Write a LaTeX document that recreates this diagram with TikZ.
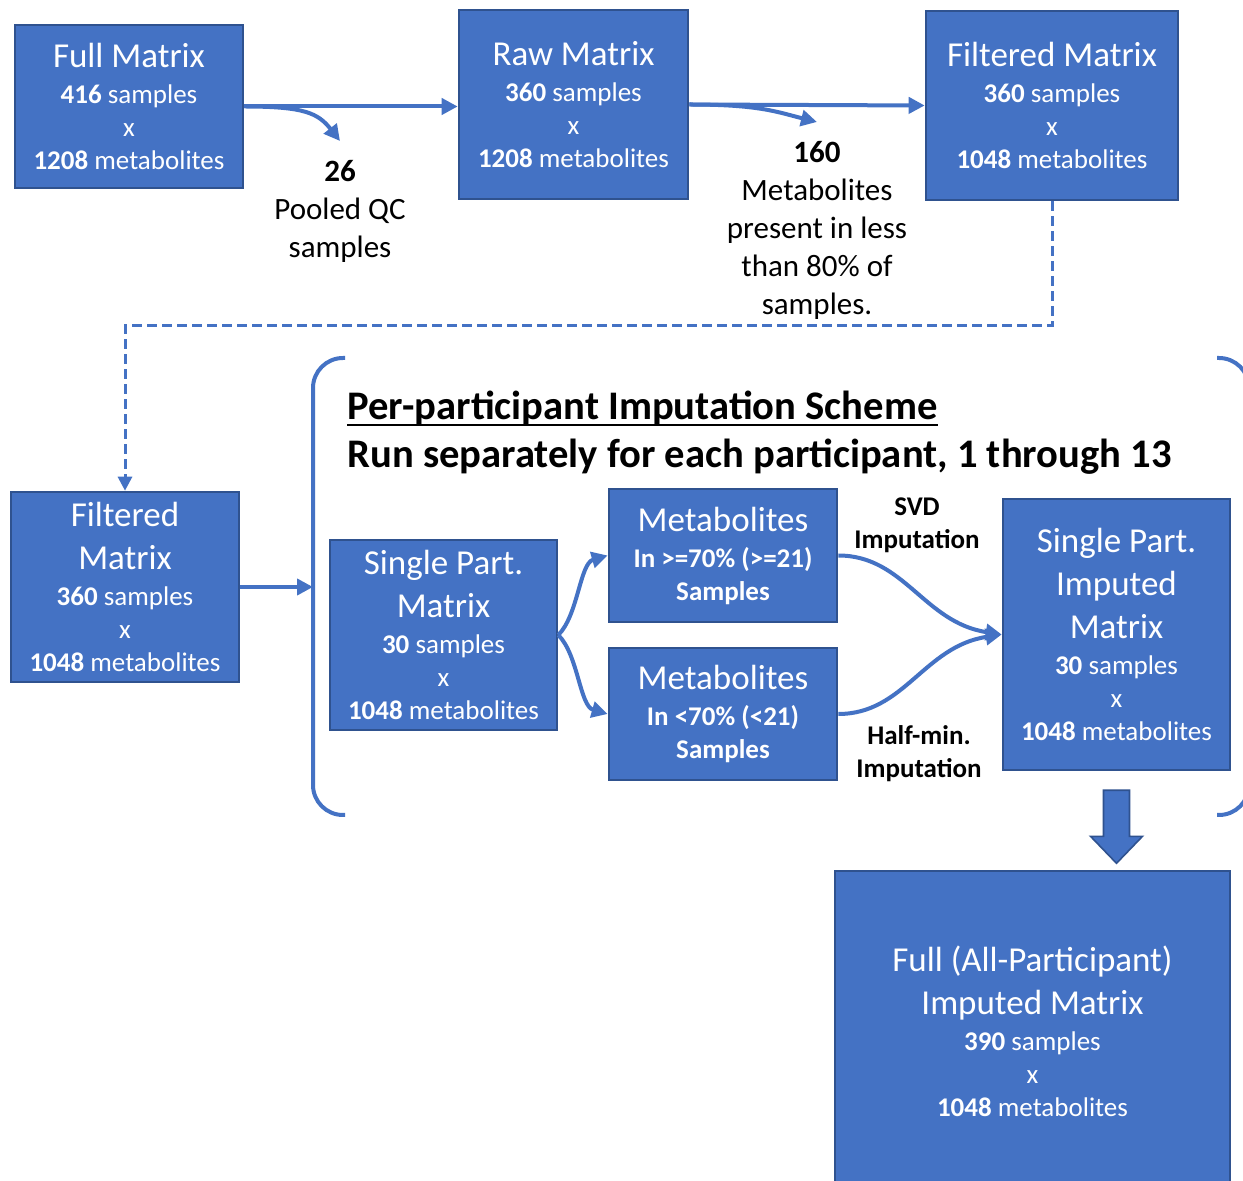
\documentclass[tikz,border=0pt]{standalone}
\usepackage{fontspec}
\setmainfont{Carlito}
\usetikzlibrary{arrows.meta, calc}

\definecolor{boxblue}{HTML}{4472C4}
\definecolor{boxline}{HTML}{2F528F}

\newcommand{\ttl}[1]{{\fontsize{17.5}{21}\selectfont #1}}

\tikzset{
    box/.style={draw=boxline, fill=boxblue, line width=1.3pt, text=white, align=center,
        inner sep=0pt, font=\fontsize{13.5}{16.5}\selectfont},
    flow/.style={draw=boxblue, line width=2pt, -{Triangle[length=8pt, width=8pt]}},
    dashflow/.style={draw=boxblue, line width=1.5pt, dash pattern=on 5pt off 2.5pt,
        -{Triangle[length=7pt, width=7pt]}},
    brace/.style={draw=boxblue, line width=2pt, rounded corners=15pt},
    blockarrow/.style={fill=boxblue, draw=boxline, line width=0.8pt},
    lbl/.style={align=center, font=\fontsize{15.5}{19}\selectfont},
    note/.style={align=center, font=\fontsize{13.5}{16.5}\selectfont\bfseries},
    head/.style={inner sep=0pt, font=\fontsize{20.3}{24}\selectfont\bfseries}
}

\begin{document}
\begin{tikzpicture}[x=0.5pt, y=-0.5pt]
        \useasboundingbox[fill=white] (0, 0) rectangle (1243, 1181);

        % 上排矩阵
        \node[box, minimum width=114pt, minimum height=81.5pt] (full) at (129, 106.5)
            {\ttl{Full Matrix}\\[1.5pt] \textbf{416} samples\\ x\\ \textbf{1208} metabolites};
        \node[box, minimum width=114.5pt, minimum height=94.5pt] (raw) at (573.5, 104.5)
            {\ttl{Raw Matrix}\\[1.5pt] \textbf{360} samples\\ x\\ \textbf{1208} metabolites};
        \node[box, minimum width=126pt, minimum height=94.5pt] (ftop) at (1052, 105.5)
            {\ttl{Filtered Matrix}\\[1.5pt] \textbf{360} samples\\ x\\ \textbf{1048} metabolites};

        % 去除的样本与代谢物
        \coordinate (qctip) at (340, 141);
        \coordinate (droptip) at (817, 122);
        \node[lbl] (qc) at (340, 211) {\textbf{26}\\ Pooled QC\\ samples};
        \node[lbl] (drop) at (817, 230) {\textbf{160}\\ Metabolites\\ present in less\\ than 80\% of\\ samples.};

        \draw[flow] (full.east) -- (full.east -| raw.west);
        \draw[flow] (full.east) .. controls +(60, 0) and +(-22, -28) .. (qctip);
        \draw[flow] (raw.east) -- (ftop.west);
        \draw[flow] (raw.east) .. controls +(70, 0) and +(-40, -10) .. (droptip);

        % 左侧矩阵
        \node[box, minimum width=114pt, minimum height=95pt] (fleft) at (125, 587)
            {\ttl{Filtered}\\[5pt] \ttl{Matrix}\\[1.5pt] \textbf{360} samples\\ x\\ \textbf{1048} metabolites};

        \coordinate (turn) at (0, 326);
        \draw[dashflow] (ftop.south) -- (ftop.south |- turn) -| (fleft.north);

        % 括号
        \draw[brace] (345, 358) -- (313, 358) -- (313, 815) -- (345, 815);
        \draw[brace] (1217, 358) -- (1249, 358) -- (1249, 815) -- (1217, 815);
        \coordinate (brin) at (313, 587);
        \draw[flow] (fleft.east) -- (brin);

        % 标题
        \node[head, anchor=base west] (scheme) at (347, 420) {Per-participant Imputation Scheme};
        \draw[line width=1.2pt] ($(scheme.base west) + (0, 5)$) -- ($(scheme.base east) + (0, 5)$);
        \node[head, anchor=base west] (run) at (347, 468) {Run separately for each participant, 1 through 13};

        % 单个参与者的插补
        \node[box, minimum width=113.5pt, minimum height=95pt] (sp) at (443.5, 635)
            {\ttl{Single Part.}\\[5pt] \ttl{Matrix}\\[1.5pt] \textbf{30} samples\\ x\\ \textbf{1048} metabolites};
        \node[box, minimum width=114pt, minimum height=66.5pt] (met1) at (723, 555.5)
            {\ttl{Metabolites}\\[1.5pt] \textbf{In >=70\% (>=21)}\\ \textbf{Samples}};
        \node[box, minimum width=114pt, minimum height=66pt] (met2) at (723, 714)
            {\ttl{Metabolites}\\[1.5pt] \textbf{In <70\% (<21)}\\ \textbf{Samples}};
        \node[box, minimum width=113.5pt, minimum height=135.5pt] (imp) at (1116.5, 634.5)
            {\ttl{Single Part.}\\[5pt] \ttl{Imputed}\\[5pt] \ttl{Matrix}\\[1.5pt] \textbf{30} samples\\ x\\ \textbf{1048} metabolites};

        \node[note] (svd) at (917, 525) {SVD\\ Imputation};
        \node[note] (half) at (919, 754) {Half-min.\\ Imputation};

        \draw[flow] (sp.east) .. controls +(20, -20) and +(-28, 8) .. (met1.west);
        \draw[flow] (sp.east) .. controls +(20, 20) and +(-28, -8) .. (met2.west);
        \draw[flow] (met1.east) .. controls +(66, 0) and +(-78, -12) .. (imp.west);
        \draw[flow] (met2.east) .. controls +(66, 0) and +(-78, 12) .. (imp.west);

        % 合并矩阵
        \node[box, minimum width=197.5pt, minimum height=160pt] (allimp) at (1032.5, 1031)
            {\ttl{Full (All-Participant)}\\[5pt] \ttl{Imputed Matrix}\\[1.5pt] \textbf{390} samples\\ x\\ \textbf{1048} metabolites};

        \draw[blockarrow] ($(imp.south) + (-13, 19)$) -- ++(26, 0) -- ++(0, 46) -- ++(13, 0)
            -- ++(-26, 27) -- ++(-26, -27) -- ++(13, 0) -- cycle;
    \end{tikzpicture}
\end{document}
